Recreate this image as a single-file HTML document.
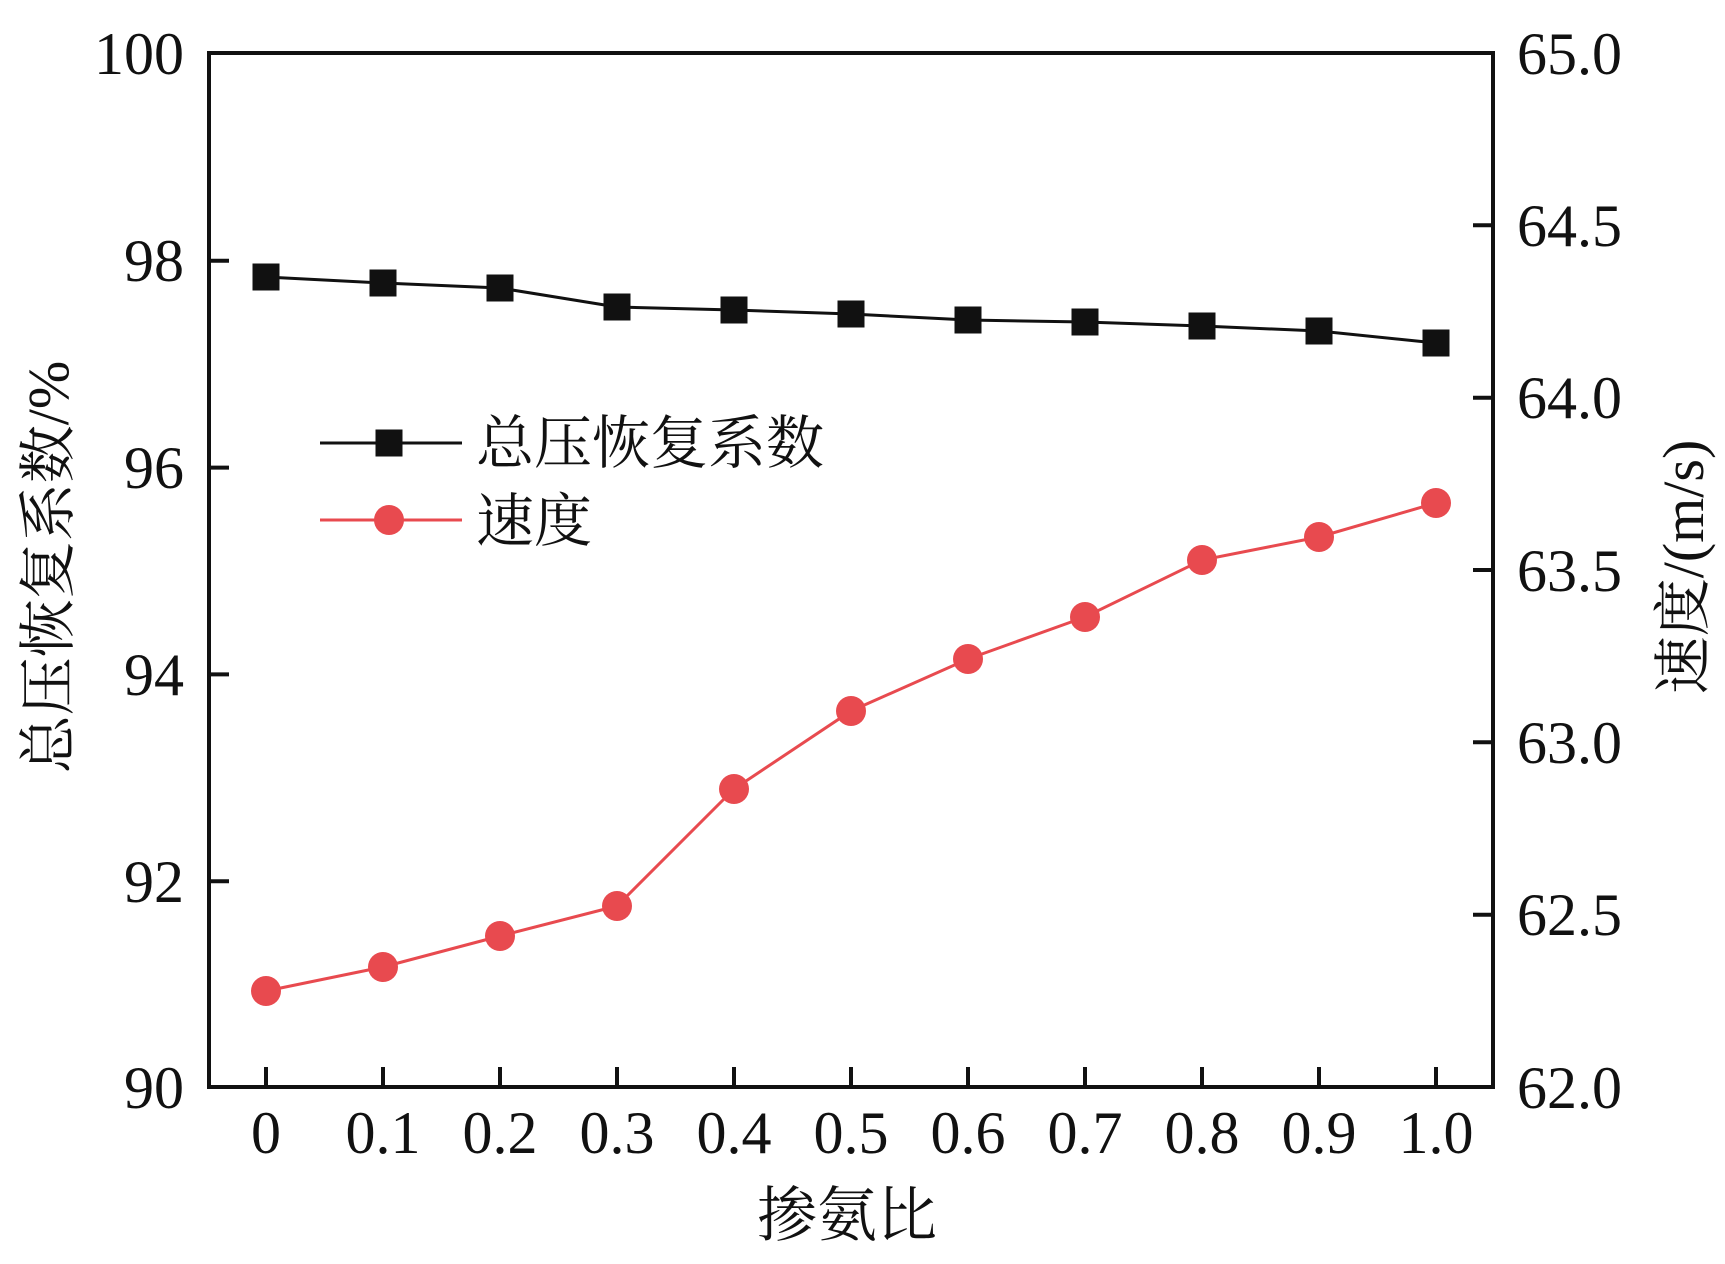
<!DOCTYPE html>
<html><head><meta charset="utf-8"><style>html,body{margin:0;padding:0;background:#fff}svg{display:block}</style></head>
<body>
<svg width="1725" height="1264" viewBox="0 0 1725 1264" xmlns="http://www.w3.org/2000/svg" font-family="Liberation Serif, 'Noto Serif CJK SC', serif">
<rect width="1725" height="1264" fill="#fff"/>
<g stroke="#111" stroke-width="4" fill="none">
<rect x="209" y="53" width="1284" height="1034"/>
<path d="M266 1087v-20M383 1087v-20M500 1087v-20M617 1087v-20M734 1087v-20M851 1087v-20M968 1087v-20M1085 1087v-20M1202 1087v-20M1319 1087v-20M1436 1087v-20"/>
<path d="M209 260.8h20M209 467.6h20M209 674.4h20M209 881.2h20"/>
<path d="M1493 225.3h-20M1493 397.7h-20M1493 570h-20M1493 742.3h-20M1493 914.7h-20"/>
</g>
<g font-size="60" fill="#111" text-anchor="end">
<text x="184" y="74">100</text><text x="184" y="281">98</text><text x="184" y="488">96</text><text x="184" y="695">94</text><text x="184" y="902">92</text><text x="184" y="1108">90</text>
</g>
<g font-size="60" fill="#111">
<text x="1517" y="74">65.0</text><text x="1517" y="246">64.5</text><text x="1517" y="418">64.0</text><text x="1517" y="591">63.5</text><text x="1517" y="763">63.0</text><text x="1517" y="935">62.5</text><text x="1517" y="1108">62.0</text>
</g>
<g font-size="60" fill="#111" text-anchor="middle">
<text x="266" y="1153">0</text><text x="383" y="1153">0.1</text><text x="500" y="1153">0.2</text><text x="617" y="1153">0.3</text><text x="734" y="1153">0.4</text><text x="851" y="1153">0.5</text><text x="968" y="1153">0.6</text><text x="1085" y="1153">0.7</text><text x="1202" y="1153">0.8</text><text x="1319" y="1153">0.9</text><text x="1436" y="1153">1.0</text>
</g>
<text x="847" y="1236" font-size="60" text-anchor="middle" fill="#111">掺氨比</text>
<text transform="translate(68,567) rotate(-90)" font-size="58" text-anchor="middle" fill="#111">总压恢复系数/%</text>
<text transform="translate(1703,567) rotate(-90)" font-size="58" text-anchor="middle" fill="#111">速度/(m/s)</text>
<polyline fill="none" stroke="#111" stroke-width="3" points="266,277 383,283 500,288 617,307 734,310 851,314 968,320 1085,322 1202,326 1319,331 1436,343"/>
<g fill="#111">
<rect x="252.5" y="263.5" width="27" height="27"/><rect x="369.5" y="269.5" width="27" height="27"/><rect x="486.5" y="274.5" width="27" height="27"/><rect x="603.5" y="293.5" width="27" height="27"/><rect x="720.5" y="296.5" width="27" height="27"/><rect x="837.5" y="300.5" width="27" height="27"/><rect x="954.5" y="306.5" width="27" height="27"/><rect x="1071.5" y="308.5" width="27" height="27"/><rect x="1188.5" y="312.5" width="27" height="27"/><rect x="1305.5" y="317.5" width="27" height="27"/><rect x="1422.5" y="329.5" width="27" height="27"/>
</g>
<polyline fill="none" stroke="#e84a4f" stroke-width="3" points="266,991 383,967 500,936 617,906 734,789 851,711 968,659 1085,617 1202,560 1319,537 1436,503"/>
<g fill="#e84a4f">
<circle cx="266" cy="991" r="15"/><circle cx="383" cy="967" r="15"/><circle cx="500" cy="936" r="15"/><circle cx="617" cy="906" r="15"/><circle cx="734" cy="789" r="15"/><circle cx="851" cy="711" r="15"/><circle cx="968" cy="659" r="15"/><circle cx="1085" cy="617" r="15"/><circle cx="1202" cy="560" r="15"/><circle cx="1319" cy="537" r="15"/><circle cx="1436" cy="503" r="15"/>
</g>
<line x1="320" y1="443" x2="462" y2="443" stroke="#111" stroke-width="3"/>
<rect x="375.5" y="429.5" width="27" height="27" fill="#111"/>
<line x1="320" y1="520" x2="462" y2="520" stroke="#e84a4f" stroke-width="3"/>
<circle cx="389" cy="520" r="15" fill="#e84a4f"/>
<text x="476" y="463" font-size="58" fill="#111">总压恢复系数</text>
<text x="476" y="541" font-size="58" fill="#111">速度</text>
</svg>
</body></html>
